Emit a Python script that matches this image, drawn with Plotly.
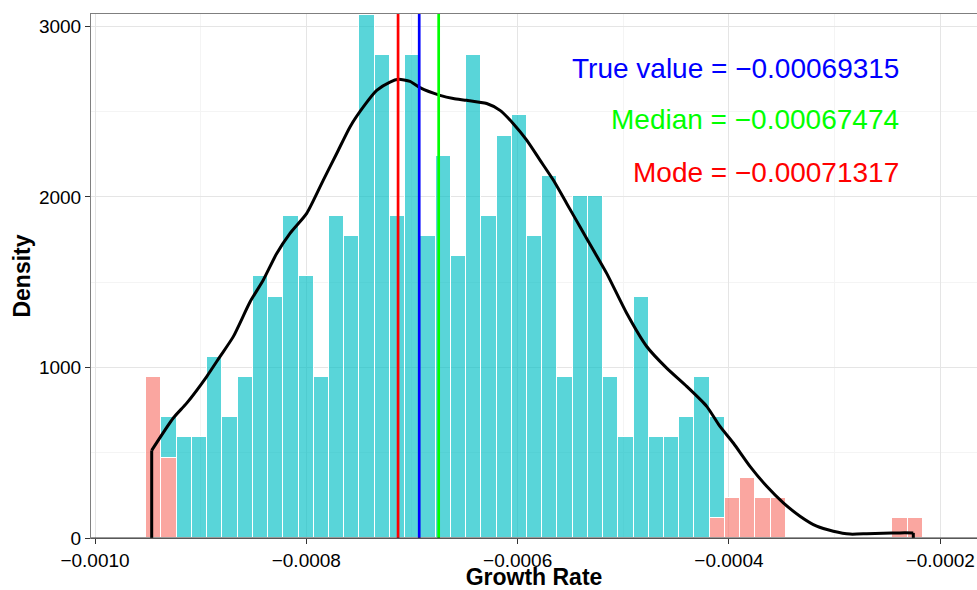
import plotly.graph_objects as go

# ---------------- data ----------------
bin_first_center = -0.00094433
bin_width = 1.4414e-5

# density heights per bin (51 bins), split into the outer tails (pink) and the inner 95% (cyan)
pink_density = [944, 472, 0, 0, 0, 0, 0, 0, 0, 0,
                0, 0, 0, 0, 0, 0, 0, 0, 0, 0,
                0, 0, 0, 0, 0, 0, 0, 0, 0, 0,
                0, 0, 0, 0, 0, 0, 0, 118, 236, 354,
                236, 236, 0, 0, 0, 0, 0, 0, 0, 118,
                118]
cyan_density = [0, 236, 590, 590, 1062, 708, 944, 1534, 1416, 1888,
                1534, 944, 1888, 1770, 3068, 2832, 1888, 2832, 1770, 2242,
                1652, 2832, 1888, 2360, 2478, 1770, 2124, 944, 2006, 2006,
                944, 590, 1416, 590, 590, 708, 944, 590, 0, 0,
                0, 0, 0, 0, 0, 0, 0, 0, 0, 0,
                0]

# kernel density curve
dens_x = [-0.00094634, -0.00094634, -0.00092589, -0.00091321, -0.00089428, -0.00088170,
          -0.00086911, -0.00085330, -0.00084072, -0.00082803, -0.00081545, -0.00079964,
          -0.00078393, -0.00077125, -0.00075866, -0.00074607, -0.00073339, -0.00072080,
          -0.00071295, -0.00070187, -0.00069241, -0.00067348, -0.00066089, -0.00064821,
          -0.00062928, -0.00061669, -0.00060410, -0.00059143, -0.00057884, -0.00056625,
          -0.00055357, -0.00054098, -0.00052839, -0.00051571, -0.00049678, -0.00047785,
          -0.00045892, -0.00044000, -0.00042107, -0.00040848, -0.00039589, -0.00038009,
          -0.00036428, -0.00034857, -0.00033277, -0.00031696, -0.00030125, -0.00028544,
          -0.00026964, -0.00025393, -0.00023812, -0.00022553, -0.00022553]
dens_y = [0, 514, 704, 791, 947, 1064,
          1181, 1384, 1513, 1669, 1787, 1904,
          2099, 2255, 2411, 2528, 2625, 2674,
          2690, 2678, 2641, 2596, 2577, 2567,
          2548, 2508, 2430, 2333, 2216, 2099,
          1962, 1825, 1689, 1552, 1318, 1123,
          996, 889, 772, 654, 557, 420,
          303, 206, 128, 69, 40, 23,
          25, 28, 30, 30, 0]

true_value = -0.00069315
median_value = -0.00067474
mode_value = -0.00071317

x_tick_vals = [-0.0010, -0.0008, -0.0006, -0.0004, -0.0002]
x_tick_text = ["\u22120.0010", "\u22120.0008", "\u22120.0006", "\u22120.0004", "\u22120.0002"]
y_tick_vals = [0, 1000, 2000, 3000]
y_tick_text = ["0", "1000", "2000", "3000"]

# ---------------- figure ----------------
bin_centers = [bin_first_center + i * bin_width for i in range(len(pink_density))]

FONT = "Liberation Sans, Arial, Helvetica, sans-serif"

fig = go.Figure()
fig.add_trace(go.Bar(x=bin_centers, y=pink_density, width=bin_width,
                     marker=dict(color="rgba(248,118,109,0.65)",
                                 line=dict(color="white", width=1.2)),
                     showlegend=False, hoverinfo="skip"))
fig.add_trace(go.Bar(x=bin_centers, y=cyan_density, width=bin_width,
                     marker=dict(color="rgba(0,191,196,0.65)",
                                 line=dict(color="white", width=1.2)),
                     showlegend=False, hoverinfo="skip"))
# smooth body of the density curve
fig.add_trace(go.Scatter(x=dens_x[1:-1], y=dens_y[1:-1], mode="lines",
                         line=dict(color="black", width=3, shape="spline", smoothing=0.6),
                         showlegend=False, hoverinfo="skip"))
# straight vertical ends of the density outline
for seg in (slice(0, 2), slice(-2, None)):
    fig.add_trace(go.Scatter(x=dens_x[seg], y=dens_y[seg], mode="lines",
                             line=dict(color="black", width=3),
                             showlegend=False, hoverinfo="skip"))

for val, col in [(mode_value, "#FF0000"), (true_value, "#0000FF"), (median_value, "#00FF00")]:
    fig.add_shape(type="line", xref="x", yref="paper", x0=val, x1=val, y0=0, y1=1,
                  line=dict(color=col, width=2.7), layer="above")

# darker bottom axis line
fig.add_shape(type="line", xref="paper", yref="paper", x0=0, x1=1, y0=0, y1=0,
              line=dict(color="#333333", width=1), layer="above")

ann_x = -0.00023747
for txt, yv, col in [("True value = \u22120.00069315", 2755, "#0000FF"),
                     ("Median = \u22120.00067474", 2452, "#00FF00"),
                     ("Mode = \u22120.00071317", 2143, "#FF0000")]:
    fig.add_annotation(x=ann_x, y=yv, xref="x", yref="y", text=txt, showarrow=False,
                       xanchor="right", yanchor="middle",
                       font=dict(family=FONT, size=28, color=col))

fig.update_layout(
    width=977, height=590,
    margin=dict(l=91, r=0, t=14, b=52),
    paper_bgcolor="white", plot_bgcolor="white",
    barmode="stack", bargap=0,
    font=dict(family=FONT, color="black"),
    xaxis=dict(range=[-0.00100379, -0.00016525], tickvals=x_tick_vals, ticktext=x_tick_text,
               automargin=False,
               showgrid=True, gridcolor="#E5E5E5", gridwidth=1,
               minor=dict(dtick=0.0001, tick0=-0.0009, showgrid=True, gridcolor="#F4F4F4", gridwidth=1),
               ticks="outside", ticklen=5, tickcolor="#333333",
               tickfont=dict(size=19, color="black"),
               showline=True, linecolor="#7F7F7F", linewidth=1, mirror=True,
               zeroline=False,
               title=dict(text="<b>Growth Rate</b>", font=dict(size=23, color="black"), standoff=2)),
    yaxis=dict(range=[0, 3073], tickvals=y_tick_vals, ticktext=y_tick_text,
               automargin=False,
               showgrid=True, gridcolor="#E5E5E5", gridwidth=1,
               minor=dict(dtick=500, tick0=500, showgrid=True, gridcolor="#F4F4F4", gridwidth=1),
               ticks="outside", ticklen=5, tickcolor="#333333",
               tickfont=dict(size=19, color="black"),
               showline=True, linecolor="#7F7F7F", linewidth=1, mirror=False,
               zeroline=False,
               title=dict(text="<b>Density</b>", font=dict(size=23, color="black"), standoff=1)),
)

fig.write_html("out.html", config={"displayModeBar": False},
               post_script="document.body.style.margin='0';document.body.style.overflow='hidden';")
